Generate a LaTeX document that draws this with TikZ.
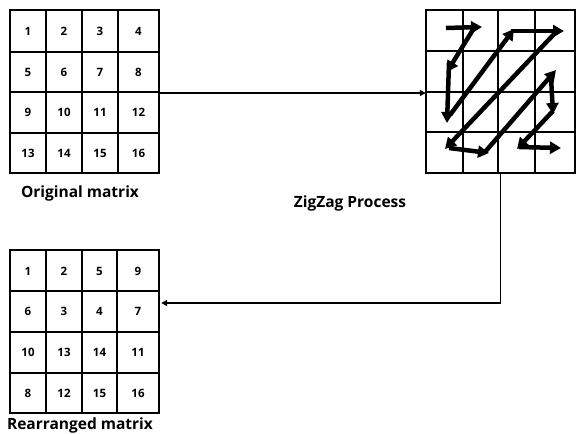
\documentclass[tikz,border=0pt]{standalone}
\usepackage{fontspec}
\setmainfont{Open Sans}
\usetikzlibrary{arrows.meta,calc}
\begin{document}
\begin{tikzpicture}[x=1pt,y=-1pt,
  gridline/.style={line width=1.7pt},
  thingrid/.style={line width=1.2pt},
  num/.style={font=\bfseries\fontsize{11.5}{13}\selectfont},
  caption/.style={font=\bfseries\fontsize{15.5}{18}\selectfont},
  frame/.style={draw=none,inner sep=0pt},
  link/.style={line width=1.5pt,-{Triangle[length=6pt,width=6pt]}},
  zz/.style={line width=4.5pt,-{Triangle[length=11pt,width=12pt]}}]
\useasboundingbox (0,0) rectangle (576,434);
% ---------- original matrix ----------
\node[frame,minimum width=149pt,minimum height=163pt] (orig) at (84.5,91.5) {};
\draw[gridline] (10,10) rectangle (159,173);
\foreach \x in {46,82,118} \draw[gridline] (\x,10) -- (\x,173);
\foreach \y in {52,92,133} \draw[gridline] (10,\y) -- (159,\y);
\foreach \v [count=\i from 0] in {1,2,3,4,5,6,7,8,9,10,11,12,13,14,15,16}{
  \pgfmathtruncatemacro{\r}{int(\i/4)}
  \pgfmathtruncatemacro{\c}{mod(\i,4)}
  \pgfmathsetmacro{\cx}{{28,64,100,138.5}[\c]}
  \pgfmathsetmacro{\cy}{{31,72,112.5,153}[\r]}
  \node[num] (o\v) at (\cx,\cy) {\v};
}
\node[caption] (origcap) at (80,193) {Original matrix};
% ---------- zigzag matrix ----------
\node[frame,minimum width=149pt,minimum height=163pt] (zig) at (500.5,91.5) {};
\draw[thingrid] (426,10) rectangle (575,173);
\foreach \x in {463,498,535} \draw[thingrid] (\x,10) -- (\x,173);
\foreach \y in {51,92,132} \draw[thingrid] (426,\y) -- (575,\y);
\coordinate (a1) at (446,28);
\coordinate (a2) at (482,27);
\coordinate (b1) at (474,28);
\coordinate (b2) at (447,72);
\coordinate (c1) at (449,63);
\coordinate (c2) at (447,123);
\coordinate (d1) at (450,115);
\coordinate (d2) at (514,29);
\coordinate (e1) at (511,31);
\coordinate (e2) at (564,31);
\coordinate (f1) at (557,31);
\coordinate (f2) at (445,149);
\coordinate (g1) at (449,148);
\coordinate (g2) at (489,153);
\coordinate (h1) at (485,152);
\coordinate (h2) at (556,70);
\coordinate (i1) at (551,77);
\coordinate (i2) at (553,114);
\coordinate (j1) at (553,111);
\coordinate (j2) at (517,149);
\coordinate (k1) at (519,147);
\coordinate (k2) at (561,148);
\draw[zz] (a1) -- (a2);
\draw[zz] (b1) -- (b2);
\draw[zz] (c1) -- (c2);
\draw[zz] (d1) -- (d2);
\draw[zz] (e1) -- (e2);
\draw[zz] (f1) -- (f2);
\draw[zz] (g1) -- (g2);
\draw[zz] (h1) -- (h2);
\draw[zz] (i1) -- (i2);
\draw[zz] (j1) -- (j2);
\draw[zz] (k1) -- (k2);
\node[caption] (zigcap) at (350,203) {ZigZag Process};
% ---------- rearranged matrix ----------
\node[frame,minimum width=149pt,minimum height=163pt] (rear) at (84.5,331.5) {};
\draw[gridline] (10,250) rectangle (159,413);
\foreach \x in {46,82,117} \draw[gridline] (\x,250) -- (\x,413);
\foreach \y in {291,332,373} \draw[gridline] (10,\y) -- (159,\y);
\foreach \v [count=\i from 0] in {1,2,5,9,6,3,4,7,10,13,14,11,8,12,15,16}{
  \pgfmathtruncatemacro{\r}{int(\i/4)}
  \pgfmathtruncatemacro{\c}{mod(\i,4)}
  \pgfmathsetmacro{\cx}{{28,64,99.5,138}[\c]}
  \pgfmathsetmacro{\cy}{{271,311.5,352.5,393}[\r]}
  \node[num] (r\i) at (\cx,\cy) {\v};
}
\node[caption,anchor=base] (rearcap) at (80,429.5) {Rearranged matrix};
% ---------- connectors ----------
\draw[link] ([yshift=-1.5pt]orig.east) -- ([yshift=-1.5pt]zig.west);
\draw[link] (zig.south) |- ([yshift=28.5pt,xshift=2pt]rear.east);
\end{tikzpicture}
\end{document}
